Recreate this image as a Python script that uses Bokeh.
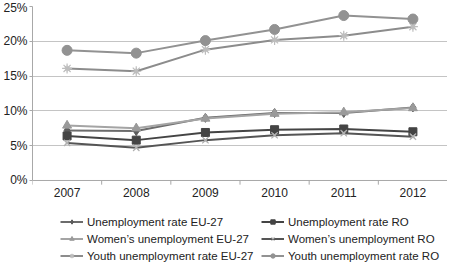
from bokeh.plotting import figure
from bokeh.models import (Range1d, FixedTicker, PrintfTickFormatter, Legend, LegendItem)
from bokeh.core.properties import value
from bokeh.embed import file_html
from bokeh.resources import INLINE

years = [2007, 2008, 2009, 2010, 2011, 2012]
year_labels = ["2007", "2008", "2009", "2010", "2011", "2012"]
unemp_eu = [7.2, 7.1, 9.0, 9.7, 9.7, 10.5]
unemp_ro = [6.4, 5.8, 6.9, 7.3, 7.4, 7.0]
women_eu = [7.9, 7.5, 8.9, 9.6, 9.8, 10.4]
women_ro = [5.4, 4.7, 5.8, 6.5, 6.8, 6.3]
youth_eu = [16.1, 15.7, 18.8, 20.2, 20.8, 22.1]
youth_ro = [18.7, 18.3, 20.1, 21.7, 23.7, 23.2]
y_ticks = [0, 5, 10, 15, 20, 25]

FONT = "Liberation Sans"
FS = "12px"
LFS = "11.5px"
Y_MAX = 25
Y_MIN = -12.07  # space below the baseline holds the year labels and the legend

p = figure(width=447, height=264, output_backend="svg", toolbar_location=None,
           x_range=Range1d(2006.5, 2012.5), y_range=Range1d(Y_MIN, Y_MAX),
           min_border_left=25, min_border_right=0, min_border_top=6,
           min_border_bottom=0)
p.outline_line_color = None
p.background_fill_color = "white"

p.xgrid.grid_line_color = None
p.ygrid.grid_line_color = "#c4c4c4"
p.ygrid.grid_line_width = 1
p.ygrid.ticker = FixedTicker(ticks=y_ticks)

p.yaxis.ticker = FixedTicker(ticks=y_ticks)
p.yaxis.bounds = (0, Y_MAX)
p.yaxis.formatter = PrintfTickFormatter(format="%d%%")
p.yaxis.axis_line_color = "#a8a8a8"
p.yaxis.major_tick_line_color = "#a8a8a8"
p.yaxis.major_tick_out = 3
p.yaxis.major_tick_in = 0
p.yaxis.minor_tick_line_color = None
p.yaxis.major_label_text_font = FONT
p.yaxis.major_label_text_font_size = FS
p.yaxis.major_label_text_color = "#222222"
p.yaxis.major_label_standoff = 2

p.xaxis.visible = False

# baseline tick marks at category boundaries
bounds_x = [y - 0.5 for y in years] + [years[-1] + 0.5]
p.segment(x0=bounds_x, y0=[0] * len(bounds_x), x1=bounds_x, y1=[-0.6] * len(bounds_x),
          line_color="#a8a8a8", line_width=1)
p.segment(x0=[bounds_x[0]], y0=[0], x1=[bounds_x[-1]], y1=[0],
          line_color="#a8a8a8", line_width=1)
# category labels
p.text(x=years, y=[0] * len(years), text=year_labels, text_align="center",
       text_baseline="top", y_offset=8, text_font=value(FONT),
       text_font_size=FS, text_color="#222222")

series = [
    ("Unemployment rate EU-27", unemp_eu, "#6c6c6c", "diamond", "#5c5c5c", 9),
    ("Unemployment rate RO", unemp_ro, "#444444", "square", "#444444", 8),
    ("Women\u2019s unemployment EU-27", women_eu, "#a4a4a4", "triangle", "#9a9a9a", 9),
    ("Women\u2019s unemployment RO", women_ro, "#555555", "x", "#b0b0b0", 9),
    ("Youth unemployment rate EU-27", youth_eu, "#8c8c8c", "asterisk", "#bdbdbd", 10),
    ("Youth unemployment rate RO", youth_ro, "#929292", "circle", "#929292", 10),
]

items = []
for name, vals, lc, marker, mc, sz in series:
    r1 = p.line(years, vals, line_color=lc, line_width=2)
    unfilled = marker in ("x", "asterisk")
    # small copy of the markers (hidden under the full-size ones) used as legend swatch
    r_small = p.scatter(years, vals, marker=marker, size=6 if marker != "triangle" else 7,
                        line_color=mc, line_width=1.2 if unfilled else 1,
                        fill_color=None if unfilled else mc)
    p.scatter(years, vals, marker=marker, size=sz, line_color=mc,
              line_width=1.2 if unfilled else 1,
              fill_color=None if unfilled else mc)
    items.append(LegendItem(label=name, renderers=[r1, r_small]))


def make_legend(its, loc):
    lg = Legend(items=its, location=loc, orientation="vertical")
    lg.label_text_font = FONT
    lg.label_text_font_size = LFS
    lg.label_text_color = "#222222"
    lg.border_line_color = None
    lg.background_fill_alpha = 0
    lg.padding = 0
    lg.margin = 0
    lg.spacing = 2
    lg.label_height = 15
    lg.glyph_height = 11
    lg.glyph_width = 23
    lg.label_standoff = 4
    return lg


p.add_layout(make_legend([items[0], items[2], items[4]], (28, 1)), "center")
p.add_layout(make_legend([items[1], items[3], items[5]], (229, 1)), "center")

open("out.html", "w").write(file_html(p, INLINE))
